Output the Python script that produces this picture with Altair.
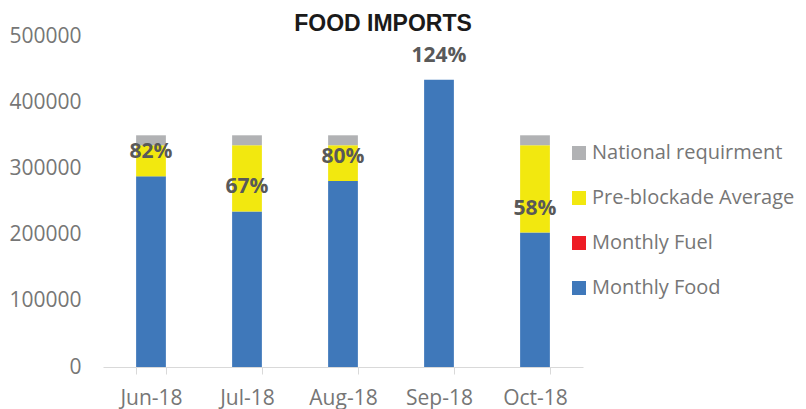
import altair as alt
import pandas as pd

months = ["Jun-18", "Jul-18", "Aug-18", "Sep-18", "Oct-18"]
monthly_food = [288000, 235000, 281000, 434000, 203000]
monthly_fuel = [0, 0, 0, 0, 0]
pre_blockade_avg = [335000, 335000, 335000, 335000, 335000]
national_req = [350000, 350000, 350000, 350000, 350000]

series_names = ["National requirment", "Pre-blockade Average", "Monthly Fuel", "Monthly Food"]
series_colors = ["#B1B2B4", "#F2E80F", "#EE1C25", "#3F78BA"]

rows = []
labels = []
for i, m in enumerate(months):
    food = monthly_food[i]
    fuel = monthly_fuel[i]
    avg_seg = max(pre_blockade_avg[i] - food - fuel, 0)
    nat_seg = max(national_req[i] - max(pre_blockade_avg[i], food + fuel), 0)
    for order, (name, val) in enumerate([
        ("Monthly Food", food), ("Monthly Fuel", fuel),
        ("Pre-blockade Average", avg_seg), ("National requirment", nat_seg)]):
        rows.append({"month": m, "series": name, "value": val, "order": order})
    labels.append({"month": m, "food": food,
                   "pct": f"{round(food / national_req[i] * 100)}%"})

df = pd.DataFrame(rows)
lab = pd.DataFrame(labels)

x_enc = alt.X("month:N", sort=months, title=None,
              scale=alt.Scale(paddingInner=0.69, paddingOuter=0.345),
              axis=alt.Axis(labelAngle=0, domainColor="#d9d9d9", tickColor="#d9d9d9",
                            tickSize=7, tickBand="extent", labelColor="#767676",
                            labelFont="Open Sans", labelFontSize=21, labelPadding=13))

bars = alt.Chart(df).mark_bar().encode(
    x=x_enc,
    y=alt.Y("value:Q", stack="zero", title=None,
            scale=alt.Scale(domain=[0, 500000], nice=False),
            axis=alt.Axis(values=[0, 100000, 200000, 300000, 400000, 500000], format="d",
                          grid=False, domain=False, ticks=False, labelColor="#767676",
                          labelFont="Open Sans", labelFontSize=21, labelPadding=22)),
    color=alt.Color("series:N", scale=alt.Scale(domain=series_names, range=series_colors),
                    legend=alt.Legend(title=None, orient="none", legendX=466, legendY=107,
                                      symbolType="square", symbolSize=196, symbolStrokeWidth=0,
                                      labelFont="Open Sans", labelFontSize=20, labelLimit=300,
                                      labelColor="#767676", rowPadding=25, labelOffset=3)),
    order=alt.Order("order:Q"),
)

text = alt.Chart(lab).mark_text(fontWeight="bold", font="Open Sans", fontSize=21,
                                 color="#595959", baseline="middle", dy=-24).encode(
    x=alt.X("month:N", sort=months),
    y=alt.Y("food:Q"),
    text="pct:N",
)

chart = alt.layer(bars, text).properties(
    width=480, height=331,
    title=alt.TitleParams("FOOD IMPORTS", font="Liberation Sans", fontSize=23,
                          fontWeight="bold", color="#1a1a1a", dx=40, dy=17, offset=6,
                          anchor="middle"),
    autosize=alt.AutoSizeParams(type="none"),
    padding={"left": 95, "top": 28, "right": 215, "bottom": 45},
).configure_view(stroke=None)

chart.save("out.html", embed_options={"renderer": "svg", "actions": False})
